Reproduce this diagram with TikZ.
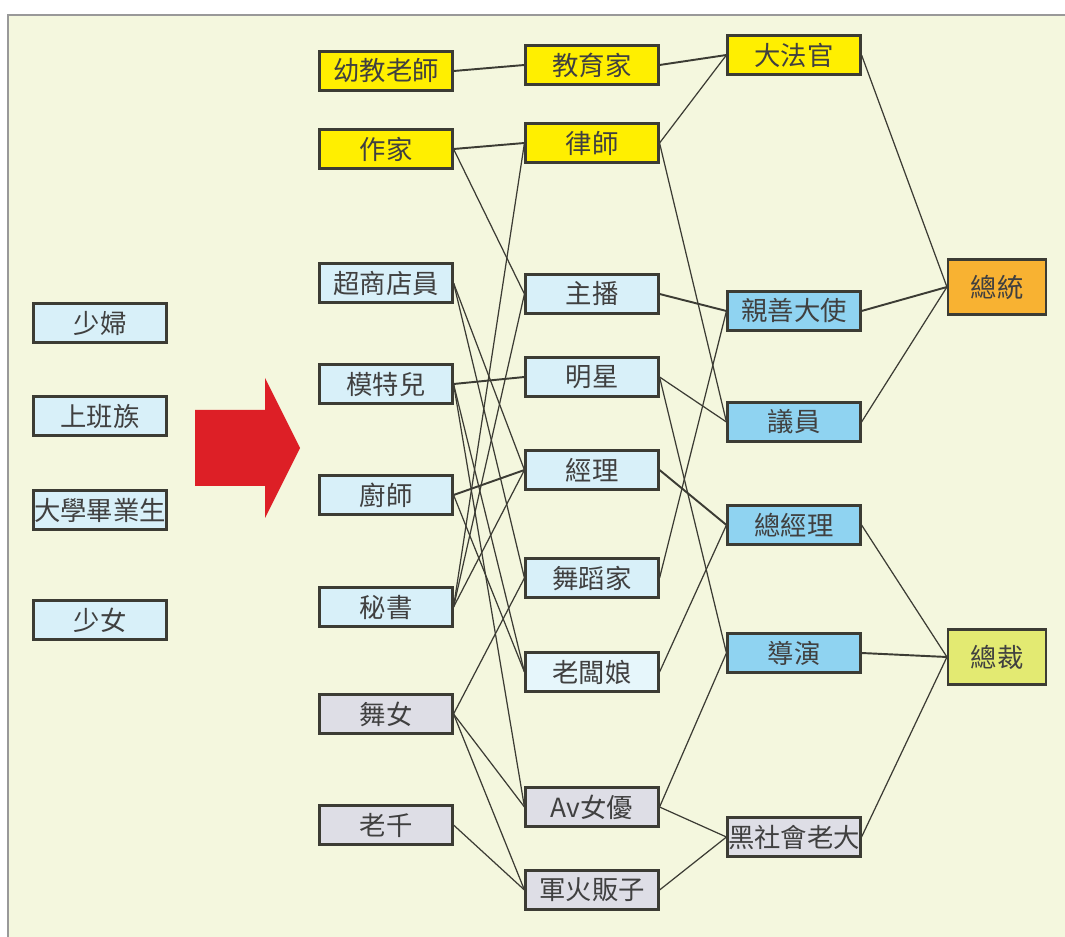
\documentclass[tikz,border=0pt]{standalone}
\usepackage{fontspec}
\setmainfont{Noto Sans CJK TC}
\usetikzlibrary{positioning}
\definecolor{bgcream}{HTML}{F4F7DE}
\definecolor{boxyellow}{HTML}{FFEF00}
\definecolor{boxpale}{HTML}{D8F0F9}
\definecolor{boxpaler}{HTML}{E6F6FB}
\definecolor{boxsky}{HTML}{8FD3F1}
\definecolor{boxgray}{HTML}{DEDEE6}
\definecolor{boxorange}{HTML}{F8B232}
\definecolor{boxlime}{HTML}{E3EA72}
\definecolor{arrowred}{HTML}{DD1F26}
\definecolor{edgegray}{HTML}{3C3C34}

\begin{document}
\begin{tikzpicture}[x=0.2mm,y=-0.2mm,
  job/.style={draw=edgegray,line width=1.2pt,minimum width=26.6mm,minimum height=7.8mm,
              inner sep=0pt,font=\fontsize{15}{18}\selectfont,text=black!75},
  goal/.style={job,minimum width=19.6mm,minimum height=11mm},
  link/.style={draw=edgegray,line width=0.7pt},
  mainlink/.style={link,line width=1.1pt}]
  \useasboundingbox (0,0) rectangle (1065,937);
  \fill[bgcream] (8,15) rectangle (1065,937);
  \draw[gray!80,line width=1pt] (8,937) -- (8,15) -- (1065,15);
  % starting points
  \node[job,fill=boxpale] (sf) at (100,323) {少婦};
  \node[job,fill=boxpale] (sbz) at (100,416) {上班族};
  \node[job,fill=boxpale] (dxs) at (100,510) {大學畢業生};
  \node[job,fill=boxpale] (sn) at (100,620) {少女};
  \fill[arrowred] (195,410) -- (265,410) -- (265,378) -- (300,448)
                  -- (265,518) -- (265,486) -- (195,486) -- cycle;
  % first jobs
  \node[job,fill=boxyellow] (yj) at (386,71) {幼教老師};
  \node[job,fill=boxyellow] (zj) at (386,149) {作家};
  \node[job,fill=boxpale] (cs) at (386,283) {超商店員};
  \node[job,fill=boxpale] (mt) at (386,384) {模特兒};
  \node[job,fill=boxpale] (cf) at (386,495) {廚師};
  \node[job,fill=boxpale] (ms) at (386,607) {秘書};
  \node[job,fill=boxgray] (wn) at (386,714) {舞女};
  \node[job,fill=boxgray] (lq) at (386,825) {老千};
  % second jobs
  \node[job,fill=boxyellow] (jyj) at (592,65) {教育家};
  \node[job,fill=boxyellow] (ls) at (592,143) {律師};
  \node[job,fill=boxpale] (zb) at (592,294) {主播};
  \node[job,fill=boxpale] (mx) at (592,377) {明星};
  \node[job,fill=boxpale] (jl) at (592,470) {經理};
  \node[job,fill=boxpale] (wdj) at (592,578) {舞蹈家};
  \node[job,fill=boxpaler] (ldn) at (592,672) {老闆娘};
  \node[job,fill=boxgray] (av) at (592,807) {Av女優};
  \node[job,fill=boxgray] (jh) at (592,890) {軍火販子};
  % third jobs
  \node[job,fill=boxyellow] (dfg) at (794,55) {大法官};
  \node[job,fill=boxsky] (qs) at (794,311) {親善大使};
  \node[job,fill=boxsky] (yy) at (794,422) {議員};
  \node[job,fill=boxsky] (zjl) at (794,525) {總經理};
  \node[job,fill=boxsky] (dy) at (794,653) {導演};
  \node[job,fill=boxgray] (hs) at (794,837) {黑社會老大};
  % top
  \node[goal,fill=boxorange] (zt) at (997,287) {總統};
  \node[goal,fill=boxlime] (zc) at (997,657) {總裁};
  % links
  \foreach \a/\b in {yj/jyj,zj/ls,mt/mx,cf/jl,zb/qs,jl/zjl,qs/zt,dy/zc,jyj/dfg}
    \draw[mainlink] (\a.east) -- (\b.west);
  \foreach \a/\b in {zj/zb,cs/jl,cs/wdj,mt/ldn,mt/av,cf/ldn,ms/ls,ms/zb,ms/jl,
                     wn/wdj,wn/av,wn/jh,lq/jh,
                     ls/dfg,ls/yy,mx/yy,mx/dy,wdj/qs,ldn/zjl,av/dy,av/hs,jh/hs,
                     dfg/zt,yy/zt,zjl/zc,hs/zc}
    \draw[link] (\a.east) -- (\b.west);
\end{tikzpicture}
\end{document}
